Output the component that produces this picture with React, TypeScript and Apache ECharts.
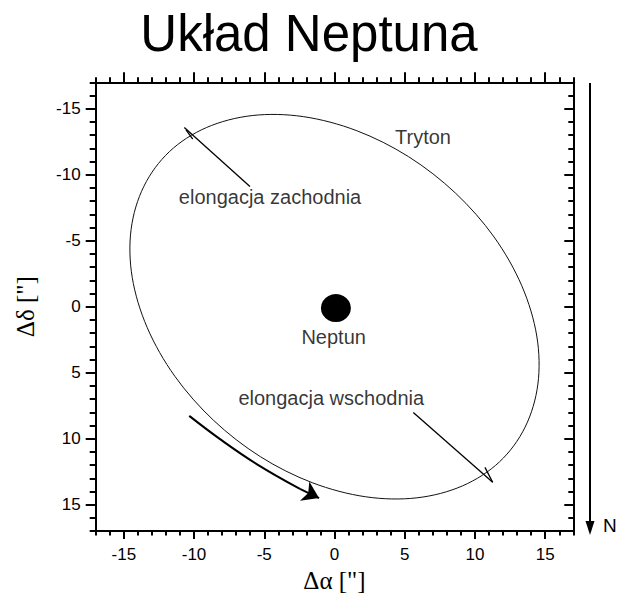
import React, { useEffect, useRef } from "react";
import * as echarts from "echarts";

// Orbit of Triton, arcseconds
const orbitX = [11.75, 13.57, 14.48, 14.4, 13.33, 11.36, 8.61, 5.28, 1.59, -2.22, -5.86, -9.12, -11.75, -13.57, -14.48, -14.4, -13.33, -11.36, -8.61, -5.28, -1.59, 2.22, 5.86, 9.12];
const orbitY = [11.75, 9.12, 5.86, 2.22, -1.59, -5.28, -8.61, -11.36, -13.33, -14.4, -14.48, -13.57, -11.75, -9.12, -5.86, -2.22, 1.59, 5.28, 8.61, 11.36, 13.33, 14.4, 14.48, 13.57];

// Neptune position
const neptuneX = [0.1];
const neptuneY = [0.1];

// Motion arrow (direction of Triton's motion)
const motionX = [-10.34, -8.15, -5.54, -2.46];
const motionY = [8.27, 10.03, 11.92, 13.8];
const motionTipX = [-2.46, -1.1];
const motionTipY = [13.8, 14.5];

// Elongation leader lines and the small marks across the orbit
const westLeaderX = [-10.69, -6.02];
const westLeaderY = [-13.57, -9.11];
const westMarkX = [-10.57, -10.09];
const westMarkY = [-13.4, -12.69];
const eastLeaderX = [5.61, 11.26];
const eastLeaderY = [8.01, 13.3];
const eastMarkX = [10.71, 11.26];
const eastMarkY = [12.17, 13.3];

// Annotation labels
const labelTexts = ["Tryton", "elongacja zachodnia", "elongacja wschodnia", "Neptun"];
const labelX = [6.3, -4.59, -0.23, -0.06];
const labelY = [-12.85, -8.3, 6.91, 2.27];

// Axis ticks
const majorTicks = [-15, -10, -5, 0, 5, 10, 15];
const minorTicks = [-17, -16, -14, -13, -12, -11, -9, -8, -7, -6, -4, -3, -2, -1, 1, 2, 3, 4, 6, 7, 8, 9, 11, 12, 13, 14, 16, 17];

const axisMin = -17;
const axisMax = 17;

const SANS = "Liberation Sans, Arial, sans-serif";
const SERIF = "Liberation Serif, Times New Roman, serif";

function zip(xs: number[], ys: number[]) {
  return xs.map((x, i) => [x, ys[i]]);
}

function makeAxis(
  kind: "x" | "y",
  position: string,
  ticks: number[],
  len: number,
  inside: boolean,
  withLine: boolean,
  labels: boolean,
  extra: any = {}
) {
  return {
    type: "value",
    position,
    min: axisMin,
    max: axisMax,
    inverse: kind === "y",
    splitLine: { show: false },
    axisLine: { show: withLine, onZero: false, lineStyle: { color: "#000", width: 2 } },
    axisTick: {
      show: true,
      inside,
      length: len,
      customValues: ticks,
      lineStyle: { color: "#000", width: 2 },
    },
    axisLabel: labels
      ? {
          show: true,
          customValues: ticks,
          fontSize: 17,
          fontFamily: SANS,
          color: "#000",
          margin: 15,
        }
      : { show: false },
    ...extra,
  };
}

// closed Catmull-Rom spline through the orbit points, in pixel space
function orbitRenderItem(_params: any, api: any) {
  const pts = orbitX.map((x, i) => api.coord([x, orbitY[i]]));
  const n = pts.length;
  let d = `M${pts[0][0].toFixed(2)},${pts[0][1].toFixed(2)}`;
  for (let i = 0; i < n; i++) {
    const p0 = pts[(i - 1 + n) % n];
    const p1 = pts[i];
    const p2 = pts[(i + 1) % n];
    const p3 = pts[(i + 2) % n];
    const c1x = p1[0] + (p2[0] - p0[0]) / 6;
    const c1y = p1[1] + (p2[1] - p0[1]) / 6;
    const c2x = p2[0] - (p3[0] - p1[0]) / 6;
    const c2y = p2[1] - (p3[1] - p1[1]) / 6;
    d += ` C${c1x.toFixed(2)},${c1y.toFixed(2)} ${c2x.toFixed(2)},${c2y.toFixed(2)} ${p2[0].toFixed(2)},${p2[1].toFixed(2)}`;
  }
  d += " Z";
  return {
    type: "path",
    shape: { pathData: d },
    style: { fill: "none", stroke: "#111", lineWidth: 1 },
  };
}

export default function App() {
  const ref = useRef<HTMLDivElement>(null);

  useEffect(() => {
    if (!ref.current) return;
    const chart = echarts.init(ref.current, undefined, { renderer: "svg" });

    const option: any = {
      animation: false,
      backgroundColor: "#fff",
      title: {
        text: "Układ Neptuna",
        left: "center",
        top: 3,
        textStyle: { fontSize: 51, fontWeight: "normal", fontFamily: SANS, color: "#000" },
      },
      grid: { left: 95.7, right: 44.7, top: 82.3, bottom: 65.7, containLabel: false },
      xAxis: [
        makeAxis("x", "bottom", majorTicks, 8, false, true, true, {
          name: 'Δα ["]',
          nameLocation: "middle",
          nameGap: 34,
          nameTextStyle: { fontSize: 25, fontFamily: SERIF, color: "#000" },
        }),
        makeAxis("x", "bottom", minorTicks, 4.5, false, false, false),
        makeAxis("x", "top", majorTicks, 10, false, true, false),
        makeAxis("x", "top", minorTicks, 5, false, false, false),
      ],
      yAxis: [
        makeAxis("y", "left", majorTicks, 10, false, true, true, {
          name: 'Δδ ["]',
          nameLocation: "middle",
          nameGap: 58,
          nameTextStyle: { fontSize: 25, fontFamily: SERIF, color: "#000" },
        }),
        makeAxis("y", "left", minorTicks, 6, false, false, false),
        makeAxis("y", "right", majorTicks, 9, true, true, false),
        makeAxis("y", "right", minorTicks, 5, true, false, false),
      ],
      series: [
        {
          type: "custom",
          name: "Tryton",
          coordinateSystem: "cartesian2d",
          data: [[orbitX[0], orbitY[0]]],
          renderItem: orbitRenderItem,
          silent: true,
        },
        {
          type: "scatter",
          name: "Neptun",
          data: zip(neptuneX, neptuneY),
          symbol: "circle",
          symbolSize: [30, 28],
          itemStyle: { color: "#000", opacity: 1 },
        },
        {
          type: "lines",
          coordinateSystem: "cartesian2d",
          data: [
            { coords: zip(westLeaderX, westLeaderY) },
            { coords: zip(westMarkX, westMarkY) },
            { coords: zip(eastLeaderX, eastLeaderY) },
            { coords: zip(eastMarkX, eastMarkY) },
          ],
          symbol: ["none", "none"],
          lineStyle: { color: "#000", width: 1.3, opacity: 1 },
        },
        {
          type: "line",
          data: zip(motionX, motionY),
          smooth: 0.4,
          showSymbol: false,
          symbol: "none",
          lineStyle: { color: "#000", width: 2 },
        },
        {
          type: "lines",
          coordinateSystem: "cartesian2d",
          data: [{ coords: zip(motionTipX, motionTipY) }],
          symbol: ["none", "arrow"],
          symbolSize: [11, 16],
          lineStyle: { color: "#000", width: 2, opacity: 1 },
          itemStyle: { color: "#000" },
        },
        {
          type: "scatter",
          data: labelTexts.map((t, i) => ({ name: t, value: [labelX[i], labelY[i]] })),
          symbolSize: 1,
          itemStyle: { color: "rgba(0,0,0,0)" },
          label: {
            show: true,
            position: "inside",
            formatter: (p: any) => p.name,
            fontSize: 20,
            fontFamily: SANS,
            color: "#000",
          },
        },
      ],
      graphic: [
        {
          type: "line",
          shape: { x1: 590, y1: 83, x2: 590, y2: 524 },
          style: { stroke: "#000", lineWidth: 2 },
        },
        {
          type: "polygon",
          shape: { points: [[585.5, 521], [594.5, 521], [590, 535]] },
          style: { fill: "#000" },
        },
        {
          type: "text",
          x: 603,
          y: 535,
          style: {
            text: "N",
            fontSize: 19,
            fontFamily: SANS,
            fill: "#000",
            textVerticalAlign: "bottom",
          },
        },
      ],
    };

    chart.setOption(option);
    return () => chart.dispose();
  }, []);

  return (
    <div
      ref={ref}
      style={{ position: "absolute", left: 0, top: 0, width: 618, height: 598 }}
    />
  );
}
